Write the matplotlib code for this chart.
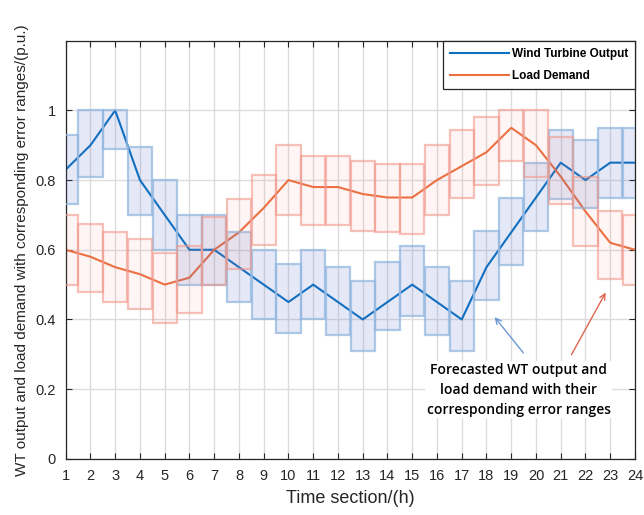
import matplotlib
matplotlib.use("Agg")
import matplotlib.pyplot as plt
from matplotlib.patches import Rectangle

hours = list(range(1, 25))
wt = [0.83, 0.90, 1.00, 0.80, 0.70, 0.60, 0.60, 0.55, 0.50, 0.45, 0.50, 0.45,
      0.40, 0.45, 0.50, 0.45, 0.40, 0.55, 0.65, 0.75, 0.85, 0.80, 0.85, 0.85]
wt_low = [0.73, 0.81, 0.89, 0.70, 0.60, 0.50, 0.50, 0.45, 0.40, 0.36, 0.40, 0.355,
          0.31, 0.37, 0.41, 0.355, 0.31, 0.455, 0.555, 0.655, 0.745, 0.72, 0.75, 0.75]
wt_up = [0.93, 1.00, 1.00, 0.895, 0.80, 0.70, 0.70, 0.65, 0.60, 0.56, 0.60, 0.55,
         0.51, 0.565, 0.61, 0.55, 0.51, 0.655, 0.75, 0.85, 0.945, 0.915, 0.95, 0.95]
load = [0.60, 0.58, 0.55, 0.53, 0.50, 0.52, 0.60, 0.65, 0.72, 0.80, 0.78, 0.78,
        0.76, 0.75, 0.75, 0.80, 0.84, 0.88, 0.95, 0.90, 0.81, 0.71, 0.62, 0.60]
load_low = [0.50, 0.48, 0.45, 0.43, 0.39, 0.42, 0.50, 0.545, 0.615, 0.70, 0.67, 0.67,
            0.655, 0.65, 0.645, 0.70, 0.75, 0.785, 0.855, 0.81, 0.73, 0.61, 0.515, 0.50]
load_up = [0.70, 0.675, 0.65, 0.63, 0.59, 0.61, 0.695, 0.745, 0.815, 0.90, 0.87, 0.87,
           0.855, 0.845, 0.845, 0.90, 0.945, 0.98, 1.00, 1.00, 0.925, 0.81, 0.71, 0.70]
yticks = [0, 0.2, 0.4, 0.6, 0.8, 1]
ytick_labels = ["0", "0.2", "0.4", "0.6", "0.8", "1"]
series_names = ["Wind Turbine Output", "Load Demand"]
note = "Forecasted WT output and\nload demand with their\ncorresponding error ranges"

plt.rcParams['font.family'] = ['Liberation Sans', 'DejaVu Sans']

fig = plt.figure(figsize=(6.44, 5.15), dpi=100)
ax = fig.add_axes([0.102, 0.109, 0.884, 0.812])

blue_line = '#0a72c0'
orange_line = '#eb6f3e'

ax.plot(hours, wt, color=blue_line, lw=1.5, zorder=2, label=series_names[0])
ax.plot(hours, load, color=orange_line, lw=1.5, zorder=2, label=series_names[1])

w = 0.98
for h, lo, up in zip(hours, wt_low, wt_up):
    ax.add_patch(Rectangle((h - w / 2, lo), w, up - lo, facecolor=(0.30, 0.40, 0.80, 0.15),
                           edgecolor=(0.58, 0.72, 0.88, 0.75), lw=1.6, zorder=3))
for h, lo, up in zip(hours, load_low, load_up):
    ax.add_patch(Rectangle((h - w / 2, lo), w, up - lo, facecolor=(1.0, 0.50, 0.45, 0.08),
                           edgecolor=(0.94, 0.60, 0.55, 0.6), lw=1.6, zorder=3))

ax.set_xlim(1, 24)
ax.set_ylim(0, 1.2)
ax.set_xticks(hours)
ax.set_yticks(yticks)
ax.set_yticklabels(ytick_labels)
ax.tick_params(direction='in', top=True, right=True, labelsize=10.5, colors='#262626',
               length=4, width=0.8, pad=7)
ax.grid(True, color='#dcdcdc', lw=1.0, zorder=0)
ax.set_axisbelow(True)
for s in ax.spines.values():
    s.set_color('#262626')
    s.set_linewidth(0.9)

ax.set_xlabel("Time section/(h)", fontsize=13, color='#262626', labelpad=5)
ax.set_ylabel("WT output and load demand with corresponding error ranges/(p.u.)",
              fontsize=11, color='#262626', labelpad=5)

leg = ax.legend(loc='upper right', bbox_to_anchor=(1.0, 1.0), borderaxespad=0,
                fancybox=False, framealpha=1, edgecolor='#262626', handlelength=5.0,
                prop={'weight': 'bold', 'size': 8.5}, labelspacing=0.9,
                borderpad=0.6, handletextpad=0.2)
leg.get_frame().set_linewidth(0.9)
leg.set_zorder(10)

ax.annotate("", xy=(18.26, 0.413), xytext=(19.56, 0.298),
            arrowprops=dict(arrowstyle='->', color='#6a98d4', lw=1.0), zorder=5)
ax.annotate("", xy=(22.87, 0.484), xytext=(21.38, 0.292),
            arrowprops=dict(arrowstyle='->', color='#e0644f', lw=1.0), zorder=5)
ax.text(19.3, 0.198, note, ha='center', va='center', fontsize=10,
        family=['Open Sans', 'DejaVu Sans'], weight='semibold', linespacing=1.55,
        color='#000000', zorder=6,
        bbox=dict(facecolor='white', edgecolor='none', pad=1))

fig.savefig("out.png", dpi=100)
